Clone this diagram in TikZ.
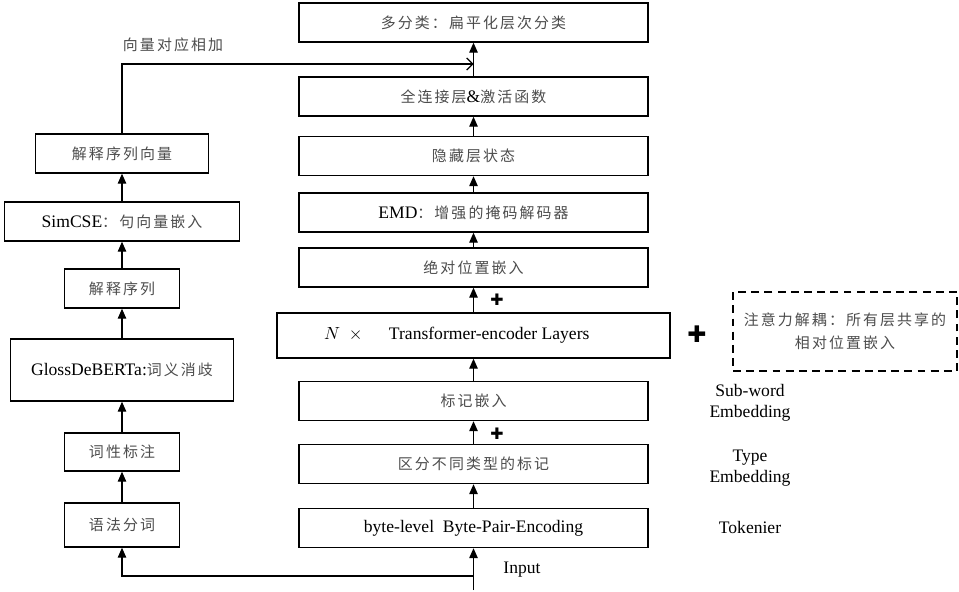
\documentclass[tikz,border=0pt]{standalone}
\usepackage{fontspec}
\setmainfont{Liberation Serif}
\newfontfamily\cjk[LetterSpace=14]{Noto Sans CJK SC}
\newfontfamily\symfont{DejaVu Sans}
\usepackage{xcolor}
\usetikzlibrary{arrows.meta, positioning}
\newcommand{\zh}[1]{{\cjk\fontsize{8.5}{11}\selectfont\color{black!70}#1}}

\begin{document}
\begin{tikzpicture}[x=0.02cm, y=-0.02cm, ->, >={Triangle[length=0.2cm, width=0.17cm]},
    font=\fontsize{10}{12}\selectfont]
    \tikzstyle{block} = [draw, line width=0.8pt, inner sep=0pt, text centered,
        minimum width=6.98cm, minimum height=0.78cm]
    \tikzstyle{side} = [block, minimum width=2.3cm]
    \tikzstyle{note} = [align=center, inner sep=0pt]
    \tikzstyle{link} = [line width=0.7pt]
    \useasboundingbox (0,0) rectangle (959,591);
    % right column
    \node [block] at (473.5,22.5) (cls) {\zh{多分类：扁平化层次分类}};
    \node [block] at (473.5,96.5) (fc) {\zh{全连接层}\&\zh{激活函数}};
    \node [block] at (473.5,156) (hid) {\zh{隐藏层状态}};
    \node [block] at (473.5,212.5) (emd) {EMD\zh{：增强的掩码解码器}};
    \node [block] at (473.5,267.5) (abs) {\zh{绝对位置嵌入}};
    \node [block, minimum width=7.86cm, minimum height=0.9cm] at (473.5,335.5) (enc)
        {$N$\hspace{5pt}$\times$\hspace{15pt}Transformer-encoder Layers\hspace{19pt}\mbox{}};
    \node [block] at (473.5,401) (tok) {\zh{标记嵌入}};
    \node [block] at (473.5,464) (typ) {\zh{区分不同类型的标记}};
    \node [block] at (473.5,528) (bpe) {byte-level\ \ Byte-Pair-Encoding};
    % left column
    \node [side, minimum width=3.46cm] at (122,153.5) (vec) {\zh{解释序列向量}};
    \node [side, minimum width=4.7cm] at (122,221.5) (sim) {SimCSE\zh{：句向量嵌入}};
    \node [side] at (122,288.5) (seq) {\zh{解释序列}};
    \node [side, minimum width=4.46cm, minimum height=1.24cm] at (122,370) (gls)
        {GlossDeBERTa:\zh{词义消歧}};
    \node [side, minimum height=0.76cm] at (122,452) (pos) {\zh{词性标注}};
    \node [side, minimum height=0.88cm] at (122,525) (seg) {\zh{语法分词}};
    % side notes
    \node [block, dashed, dash pattern=on 4.5pt off 3pt, line width=0.7pt,
        minimum width=4.48cm, minimum height=1.58cm, align=center] at (845,331.5) (rel)
        {\zh{注意力解耦：所有层共享的}\\[1pt]\zh{相对位置嵌入}};
    \node [note] at (697,334) (p0) {\symfont\fontsize{13}{13}\selectfont ✚};
    \node [note] at (497,300) (p1) {\symfont\fontsize{9}{9}\selectfont ✚};
    \node [note] at (497,434) (p2) {\symfont\fontsize{9}{9}\selectfont ✚};
    \node [note] at (750,403) (sw) {Sub-word\\Embedding};
    \node [note] at (750,468) (te) {Type\\Embedding};
    \node [note] at (750,527) (tk) {Tokenier};
    \node [note] at (522,570) (inp) {Input};
    \node [note] at (173,45) (add) {\zh{向量对应相加}};
    \coordinate (src) at (473.5,590);
    \coordinate (fork) at (473.5,576);
    \coordinate (join) at (473.5,64);
    % arrows
    \draw[link] (src) -- (bpe);
    \draw[link] (bpe) -- (typ);
    \draw[link] (typ) -- (tok);
    \draw[link] (tok) -- (enc);
    \draw[link] (enc) -- (abs);
    \draw[link] (abs) -- (emd);
    \draw[link] (emd) -- (hid);
    \draw[link] (hid) -- (fc);
    \draw[link] (fc) -- (cls);
    \draw[link] (fork) -| (seg);
    \draw[link] (seg) -- (pos);
    \draw[link] (pos) -- (gls);
    \draw[link] (gls) -- (seq);
    \draw[link] (seq) -- (sim);
    \draw[link] (sim) -- (vec);
    \draw[link, -{Straight Barb[length=0.12cm, width=0.24cm]}] (vec) |- (join);
\end{tikzpicture}
\end{document}
